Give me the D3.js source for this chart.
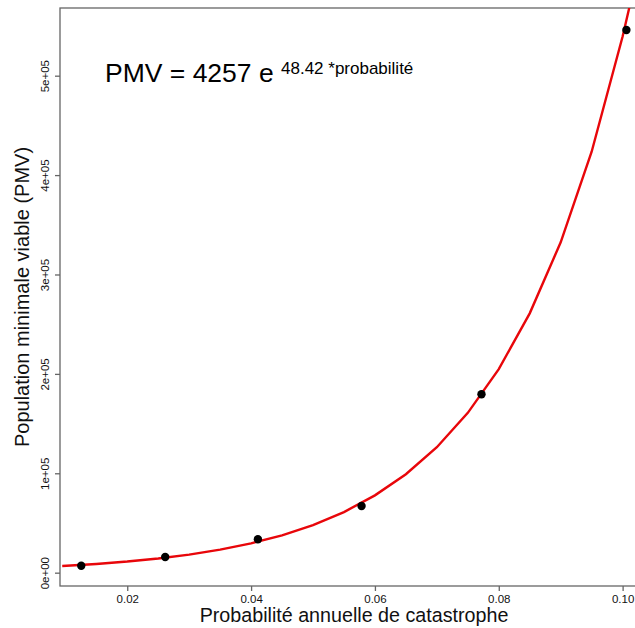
<!DOCTYPE html>
<html>
<head>
<meta charset="utf-8">
<script src="https://cdn.jsdelivr.net/npm/d3@7"></script>
<style>
  body { margin: 0; background: #fff; }
  text { font-family: "Liberation Sans", Arial, sans-serif; }
</style>
</head>
<body>
<div id="chart"></div>
<script>
// observed points
const prob = [0.01257, 0.02613, 0.0411, 0.05784, 0.07721, 0.10061]
const pmv = [7000, 15800, 33600, 67100, 179500, 546000]

// fitted curve
const curveProb = [0.0095, 0.015, 0.02, 0.025, 0.03, 0.035, 0.04, 0.045, 0.05, 0.055, 0.06,
                   0.065, 0.07, 0.075, 0.08, 0.085, 0.09, 0.095, 0.1, 0.1011]
const curvePmv = [6700, 8800, 11200, 14300, 18200, 23200, 29500, 37600, 47900, 61000, 77800,
                  99100, 126200, 160800, 204800, 260900, 332400, 423500, 539400, 569000]

const xTicks = [0.02, 0.04, 0.06, 0.08, 0.10]
const xTickLabels = ['0.02', '0.04', '0.06', '0.08', '0.10']
const yTicks = [0, 100000, 200000, 300000, 400000, 500000]
const yTickLabels = ['0e+00', '1e+05', '2e+05', '3e+05', '4e+05', '5e+05']

const W = 635, H = 628
const mLeft = 60, mRight = 648, mTop = 8, mBottom = 586

const svg = d3.select('#chart').append('svg')
    .attr('width', W)
    .attr('height', H)

const x = d3.scaleLinear().domain([0.00914, 0.1041]).range([mLeft, mRight])
const y = d3.scaleLinear().domain([-13400, 568100]).range([mBottom, mTop])

svg.append('clipPath').attr('id', 'plot')
  .append('rect')
    .attr('x', mLeft).attr('y', mTop)
    .attr('width', mRight - mLeft).attr('height', mBottom - mTop)

// box
svg.append('rect')
    .attr('x', mLeft).attr('y', mTop)
    .attr('width', mRight - mLeft).attr('height', mBottom - mTop)
    .attr('fill', 'none')
    .attr('stroke', '#666')
    .attr('stroke-width', 1.3)

// x axis
const gx = svg.append('g').attr('transform', `translate(0,${mBottom})`)
    .call(d3.axisBottom(x).tickValues(xTicks).tickFormat((d, i) => xTickLabels[i])
      .tickSize(5).tickSizeOuter(0))
gx.select('.domain').remove()
gx.selectAll('line').attr('stroke', '#666').attr('stroke-width', 1.3)
gx.selectAll('text')
    .attr('font-size', '11.5px')
    .attr('font-family', '"Liberation Sans", Arial, sans-serif')
    .attr('fill', '#111')
    .attr('y', 9)

// y axis
const gy = svg.append('g').attr('transform', `translate(${mLeft},0)`)
    .call(d3.axisLeft(y).tickValues(yTicks).tickFormat((d, i) => yTickLabels[i])
      .tickSize(5).tickSizeOuter(0))
gy.select('.domain').remove()
gy.selectAll('line').attr('stroke', '#666').attr('stroke-width', 1.3)
gy.selectAll('text')
    .attr('font-size', '11.5px')
    .attr('font-family', '"Liberation Sans", Arial, sans-serif')
    .attr('fill', '#111')
    .attr('x', null).attr('dy', null)
    .attr('text-anchor', 'middle')
    .attr('transform', 'translate(-11,0) rotate(-90)')

// axis titles
svg.append('text')
    .attr('x', 354).attr('y', 622)
    .attr('text-anchor', 'middle')
    .attr('font-size', '19.7px')
    .attr('fill', '#111')
    .text('Probabilité annuelle de catastrophe')

svg.append('text')
    .attr('transform', `translate(29,${(mTop + mBottom) / 2}) rotate(-90)`)
    .attr('text-anchor', 'middle')
    .attr('font-size', '20px')
    .attr('fill', '#111')
    .text('Population minimale viable (PMV)')

// fitted curve
const line = d3.line().x((d, i) => x(curveProb[i])).y(d => y(d))
svg.append('path')
    .attr('d', line(curvePmv))
    .attr('clip-path', 'url(#plot)')
    .attr('fill', 'none')
    .attr('stroke', '#e8060a')
    .attr('stroke-width', 2.4)

// points
svg.selectAll('circle.pt')
  .data(pmv)
  .join('circle')
    .attr('class', 'pt')
    .attr('cx', (d, i) => x(prob[i]))
    .attr('cy', d => y(d))
    .attr('r', 4.2)
    .attr('fill', '#000')

// equation
svg.append('text')
    .attr('x', 105).attr('y', 82)
    .attr('font-size', '26.5px')
    .attr('fill', '#000')
    .text('PMV = 4257 e')
svg.append('text')
    .attr('x', 281).attr('y', 74)
    .attr('font-size', '17px')
    .attr('fill', '#000')
    .text('48.42 *probabilité')
</script>
</body>
</html>
